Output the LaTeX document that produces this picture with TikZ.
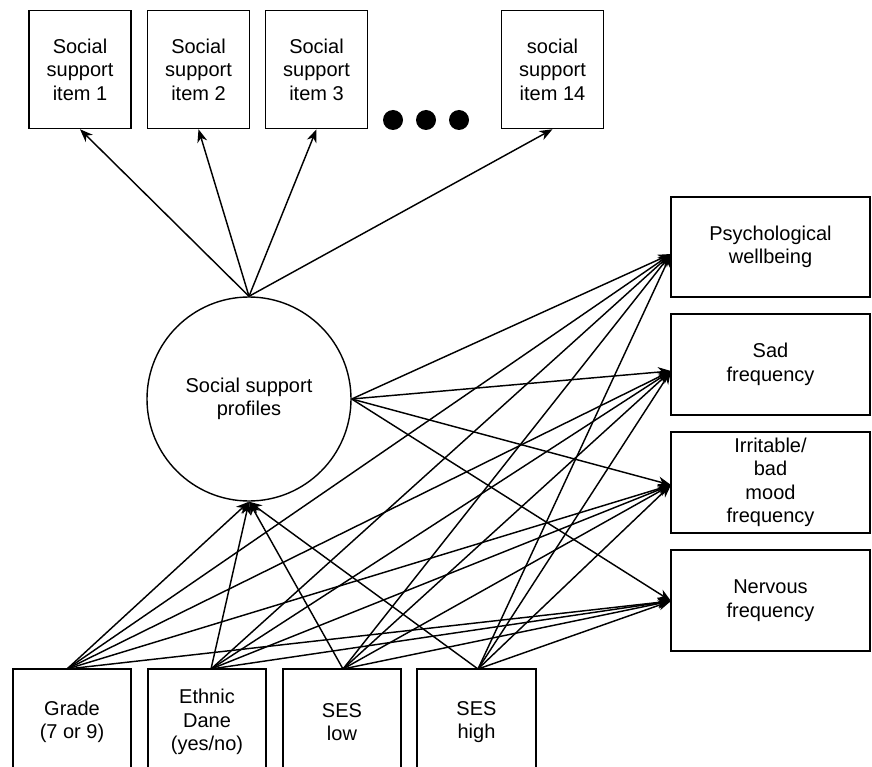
\documentclass[tikz,border=0pt]{standalone}
\usepackage{fontspec}
\setmainfont{Liberation Sans}
\usetikzlibrary{arrows.meta}
\begin{document}
\begin{tikzpicture}[x=1pt,y=-1pt,
  txt/.style={font=\fontsize{20}{23.5}\selectfont, align=center, inner sep=0pt},
  box/.style={txt, draw, line width=1.5pt},
  itembox/.style={box, minimum width=102pt, minimum height=118pt},
  outbox/.style={box, minimum width=199pt, minimum height=101pt},
  covbox/.style={box, minimum width=118pt, minimum height=106pt},
  dot/.style={circle, fill=black, minimum size=20pt, inner sep=0pt},
  conn/.style={line width=1.45pt, -{Stealth[length=13pt,width=10pt,inset=4pt]}},
]
\useasboundingbox (0,0) rectangle (872,767);
\clip (0,0) rectangle (872,767);

% indicator items
\node[itembox] (i1) at (80,69.5) {Social\\support\\item 1};
\node[itembox] (i2) at (198.5,69.5) {Social\\support\\item 2};
\node[itembox] (i3) at (316.5,69.5) {Social\\support\\item 3};
\node[itembox] (i14) at (552.5,69.5) {social\\support\\item 14};
\node[dot] (d1) at (393,120) {};
\node[dot] (d2) at (426,120) {};
\node[dot] (d3) at (459,120) {};

% latent profile
\node[txt, draw, circle, line width=1.4pt, minimum size=204pt] (ssp) at (249,399) {Social support\\profiles};

% outcomes
\node[outbox, minimum height=100pt] (ps) at (770.5,247) {Psychological\\wellbeing};
\node[outbox] (sd) at (770.5,364.5) {Sad\\frequency};
\node[outbox] (ir) at (770.5,482.5) {Irritable/\\bad\\mood\\frequency};
\node[outbox] (nv) at (770.5,600.5) {Nervous\\frequency};

% covariates
\node[covbox] (gr) at (72,722) {Grade\\(7 or 9)};
\node[covbox] (et) at (207,722) {Ethnic\\Dane\\(yes/no)};
\node[covbox] (lo) at (342,722) {SES\\low};
\node[covbox, minimum width=119pt] (hi) at (476.5,722) {SES\\high};

% ports
\coordinate (psIn) at (671,254);
\coordinate (sdIn) at (671,371);
\coordinate (irIn) at (671,485);
\coordinate (nvIn) at (671,601);
\coordinate (grOut) at (67,669);
\coordinate (etOut) at (211,669);
\coordinate (loOut) at (343,669);
\coordinate (hiOut) at (478,669);

% measurement arrows
\foreach \t in {i1,i2,i3,i14} \draw[conn] (ssp.north) -- (\t.south);

% profile to outcomes
\foreach \t in {psIn,sdIn,irIn,nvIn} \draw[conn] (ssp.east) -- (\t);

% covariates
\foreach \s in {grOut,etOut,loOut,hiOut}{
  \draw[conn] (\s) -- (ssp.south);
  \foreach \t in {psIn,sdIn,irIn,nvIn} \draw[conn] (\s) -- (\t);
}
\end{tikzpicture}
\end{document}
